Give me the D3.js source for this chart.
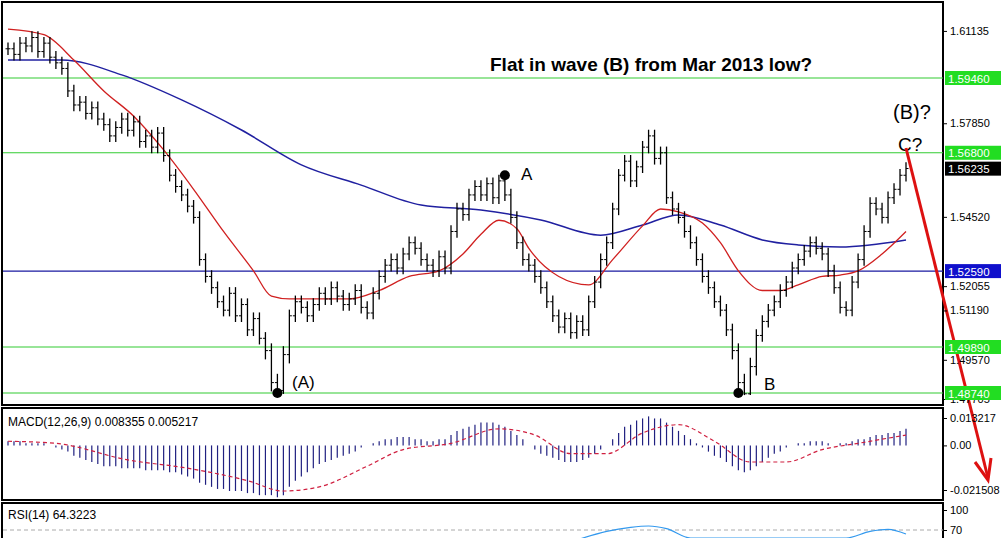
<!DOCTYPE html><html><head><meta charset="utf-8"><script src="https://cdn.jsdelivr.net/npm/d3@7"></script>
<style>body{margin:0;background:#fff}svg{display:block;font-family:"Liberation Sans",Arial,sans-serif}</style></head><body><svg id="c" width="1001" height="538"></svg>
<script>
const closes=[1.605,1.603,1.607,1.606,1.609,1.604,1.607,1.602,1.600,1.598,
1.590,1.585,1.586,1.582,1.584,1.580,1.578,1.574,1.577,1.580,
1.576,1.579,1.572,1.574,1.570,1.575,1.567,1.560,1.556,1.553,
1.549,1.545,1.530,1.524,1.520,1.515,1.512,1.518,1.510,1.514,
1.505,1.509,1.502,1.498,1.490,1.488,1.497,1.510,1.515,1.513,
1.510,1.514,1.518,1.516,1.520,1.517,1.514,1.516,1.519,1.513,
1.511,1.518,1.524,1.528,1.530,1.527,1.532,1.536,1.534,1.530,
1.528,1.526,1.531,1.527,1.540,1.548,1.546,1.553,1.556,1.553,
1.557,1.552,1.558,1.553,1.545,1.536,1.530,1.528,1.524,1.520,
1.515,1.510,1.506,1.509,1.504,1.508,1.505,1.515,1.522,1.530,
1.536,1.548,1.560,1.565,1.558,1.563,1.570,1.574,1.566,1.568,
1.552,1.548,1.545,1.540,1.536,1.530,1.524,1.520,1.515,1.512,
1.505,1.498,1.490,1.486,1.494,1.503,1.508,1.512,1.515,1.519,
1.522,1.527,1.530,1.533,1.536,1.534,1.532,1.526,1.520,1.513,
1.512,1.522,1.530,1.540,1.550,1.548,1.545,1.552,1.555,1.560,1.5624];
const redMA=[[0,1.612],[6,1.610],[11,1.601],[16,1.590],[21,1.581],[26,1.569],[31,1.555],[36,1.540],[41,1.526],[44,1.517],[47,1.516],[52,1.516],[57,1.516],[62,1.519],[67,1.524],[72,1.526],[76,1.532],[79,1.539],[82,1.544],[85,1.541],[87,1.534],[92,1.524],[97,1.521],[101,1.530],[106,1.542],[109,1.548],[112,1.547],[116,1.543],[119,1.536],[122,1.526],[126,1.519],[129,1.519],[132,1.521],[136,1.524],[139,1.5245],[142,1.526],[146,1.532],[150,1.540]];
const blueMA=[[0,1.601],[9,1.601],[19,1.5957],[29,1.5868],[39,1.5761],[49,1.5637],[59,1.5565],[69,1.5494],[79,1.5476],[89,1.5441],[99,1.5387],[106,1.5423],[112,1.5459],[119,1.5423],[126,1.5370],[132,1.5352],[139,1.5345],[150,1.5370]];
const hist=[0.002,0.002,0.002,0.001,0.001,0.001,0.001,0.000,-0.001,-0.002,
-0.003,-0.005,-0.006,-0.007,-0.008,-0.009,-0.010,-0.010,-0.010,-0.011,
-0.011,-0.011,-0.011,-0.012,-0.012,-0.012,-0.012,-0.013,-0.013,-0.014,
-0.015,-0.016,-0.018,-0.019,-0.020,-0.021,-0.021,-0.022,-0.022,-0.022,
-0.023,-0.023,-0.024,-0.024,-0.024,-0.025,-0.024,-0.020,-0.017,-0.015,
-0.013,-0.011,-0.009,-0.008,-0.007,-0.006,-0.005,-0.004,-0.003,-0.001,
0.000,0.001,0.002,0.003,0.003,0.004,0.004,0.004,0.003,0.003,
0.002,0.002,0.003,0.003,0.005,0.007,0.008,0.009,0.010,0.011,
0.011,0.011,0.010,0.009,0.007,0.005,0.003,0.000,-0.002,-0.004,
-0.005,-0.006,-0.007,-0.008,-0.008,-0.008,-0.007,-0.006,-0.004,-0.002,
0.000,0.003,0.006,0.009,0.010,0.012,0.013,0.014,0.013,0.013,
0.011,0.009,0.007,0.005,0.003,0.001,-0.001,-0.003,-0.005,-0.006,
-0.008,-0.010,-0.012,-0.013,-0.012,-0.010,-0.008,-0.006,-0.004,-0.003,
-0.001,0.000,0.001,0.001,0.002,0.002,0.002,0.001,0.000,0.001,
0.001,0.002,0.003,0.003,0.004,0.005,0.005,0.006,0.006,0.007,0.008];
const signal=[[0,0.002],[8,0.001],[20,-0.007],[30,-0.011],[40,-0.017],[46,-0.022],[52,-0.020],[60,-0.010],[66,-0.002],[74,0.001],[82,0.008],[88,0.005],[94,-0.004],[100,-0.004],[106,0.006],[112,0.010],[118,0.002],[124,-0.008],[130,-0.008],[136,-0.002],[142,0.001],[150,0.005]];
const rsi=[[95,55],[100,68],[104,74],[107,76],[110,72],[114,58],[140,58],[144,68],[147,71],[150,64]];
const greenLevels=[1.5946,1.5680,1.4989,1.4874];
const greenLabels=["1.59460","1.56800","1.49890","1.48740"];
const blueLevel=1.5259, blueLabel="1.52590";
const priceTicks=[1.61135,1.57850,1.54520,1.52055,1.51190,1.49570,1.47705];
const macdTicks=[0.013217,0,-0.021508];
const macdTickLabels=["0.013217","0.00","-0.021508"];
const rsiTicks=[100,70];
const lastPrice=1.56235;
const pivots=[[45,1.4874],[83,1.5600],[122,1.4874]];

const svg=d3.select("#c");
const x=d3.scaleLinear().domain([0,150]).range([8,906]);
const y=d3.scaleLinear().domain([1.47705,1.4874,1.4989,1.5946]).range([399,393,347,78]);
const ym=d3.scaleLinear().domain([-0.021508,0.013217]).range([490,418]);
const yr=d3.scaleLinear().domain([70,100]).range([530,510]);
const R=943;
const g=svg.append("g");
[[2,2,405],[2,408,500],[2,503,545]].forEach(([x0,t,b])=>g.append("rect").attr("x",x0).attr("y",t).attr("width",R-x0).attr("height",b-t).attr("fill","none").attr("stroke","#000").attr("stroke-width",2));
greenLevels.forEach(v=>g.append("line").attr("x1",3).attr("x2",R).attr("y1",y(v)).attr("y2",y(v)).attr("stroke","#33cc33").attr("stroke-width",1.2));
g.append("line").attr("x1",3).attr("x2",R).attr("y1",y(blueLevel)).attr("y2",y(blueLevel)).attr("stroke","#1a1aa0").attr("stroke-width",1.2);
const ax=svg.append("g").attr("transform",`translate(${R},0)`).call(d3.axisRight(y).tickValues(priceTicks).tickFormat(d3.format(".5f")).tickSize(4));
ax.select(".domain").remove();
ax.selectAll("text").attr("font-size",11).attr("fill","#000");
const am=svg.append("g").attr("transform",`translate(${R},0)`).call(d3.axisRight(ym).tickValues(macdTicks).tickFormat((d,i)=>macdTickLabels[i]).tickSize(4));
am.select(".domain").remove();am.selectAll("text").attr("font-size",11);
const ar=svg.append("g").attr("transform",`translate(${R},0)`).call(d3.axisRight(yr).tickValues(rsiTicks).tickSize(4));
ar.select(".domain").remove();ar.selectAll("text").attr("font-size",11);
const lg=svg.append("g");
const lab=(v,t,bg,fg)=>{lg.append("rect").attr("x",R+2).attr("y",y(v)-7).attr("width",56).attr("height",14).attr("fill",bg);
 lg.append("text").attr("x",R+5).attr("y",y(v)+4.5).attr("font-size",11.5).attr("fill",fg).text(t);};
greenLevels.forEach((v,i)=>lab(v,greenLabels[i],"#22dd22","#fff"));
lab(blueLevel,blueLabel,"#1010cc","#fff");
lab(lastPrice,"1.56235","#000","#fff");
const ln=d3.line().x(d=>x(d[0])).curve(d3.curveMonotoneX);
g.append("path").attr("d",ln.y(d=>y(d[1]))(blueMA)).attr("fill","none").attr("stroke","#2020a0").attr("stroke-width",1.5);
g.append("path").attr("d",ln.y(d=>y(d[1]))(redMA)).attr("fill","none").attr("stroke","#d02020").attr("stroke-width",1.3);
closes.forEach((c,i)=>{const o=i?closes[i-1]:c;const hi=Math.max(o,c)+0.0022,lo=Math.min(o,c)-0.0022;const xx=x(i);
 g.append("line").attr("x1",xx).attr("x2",xx).attr("y1",y(hi)).attr("y2",y(lo)).attr("stroke","#000").attr("stroke-width",1.3);
 g.append("line").attr("x1",xx-2.5).attr("x2",xx).attr("y1",y(o)).attr("y2",y(o)).attr("stroke","#000");
 g.append("line").attr("x1",xx).attr("x2",xx+2.5).attr("y1",y(c)).attr("y2",y(c)).attr("stroke","#000");});
hist.forEach((h,i)=>g.append("line").attr("x1",x(i)).attr("x2",x(i)).attr("y1",ym(0)).attr("y2",ym(h)).attr("stroke","#202080").attr("stroke-width",1.2));
g.append("path").attr("d",ln.y(d=>ym(d[1]))(signal)).attr("fill","none").attr("stroke","#d02040").attr("stroke-width",1.2).attr("stroke-dasharray","4,3");
g.append("text").attr("x",8).attr("y",426).attr("font-size",12).text("MACD(12,26,9) 0.008355 0.005217");
g.append("line").attr("x1",3).attr("x2",R).attr("y1",yr(70)).attr("y2",yr(70)).attr("stroke","#aaa").attr("stroke-dasharray","4,3");
svg.append("clipPath").attr("id","rc").append("rect").attr("x",3).attr("y",505).attr("width",R-3).attr("height",40);
g.append("path").attr("clip-path","url(#rc)").attr("d",ln.y(d=>yr(d[1]))(rsi)).attr("fill","none").attr("stroke","#3399ee").attr("stroke-width",1.2);
g.append("text").attr("x",8).attr("y",519).attr("font-size",12).text("RSI(14) 64.3223");
const T=(t,xx,yy,s,w)=>g.append("text").attr("x",xx).attr("y",yy).attr("font-size",s).attr("font-weight",w||"normal").text(t);
T("Flat in wave (B) from Mar 2013 low?",490,71,19,"bold");
T("(B)?",893,119,20);T("C?",898,151,19);T("A",521,180,17);T("(A)",292,388,17);T("B",764,390,17);
pivots.forEach(([i,v])=>g.append("circle").attr("cx",x(i)).attr("cy",y(v)).attr("r",5).attr("fill","#000"));
g.append("line").attr("x1",906).attr("y1",148).attr("x2",988).attr("y2",478).attr("stroke","#dd1111").attr("stroke-width",3);
g.append("path").attr("d","M975,462 L988,480 L991,458").attr("fill","none").attr("stroke","#dd1111").attr("stroke-width",3);
</script></body></html>
